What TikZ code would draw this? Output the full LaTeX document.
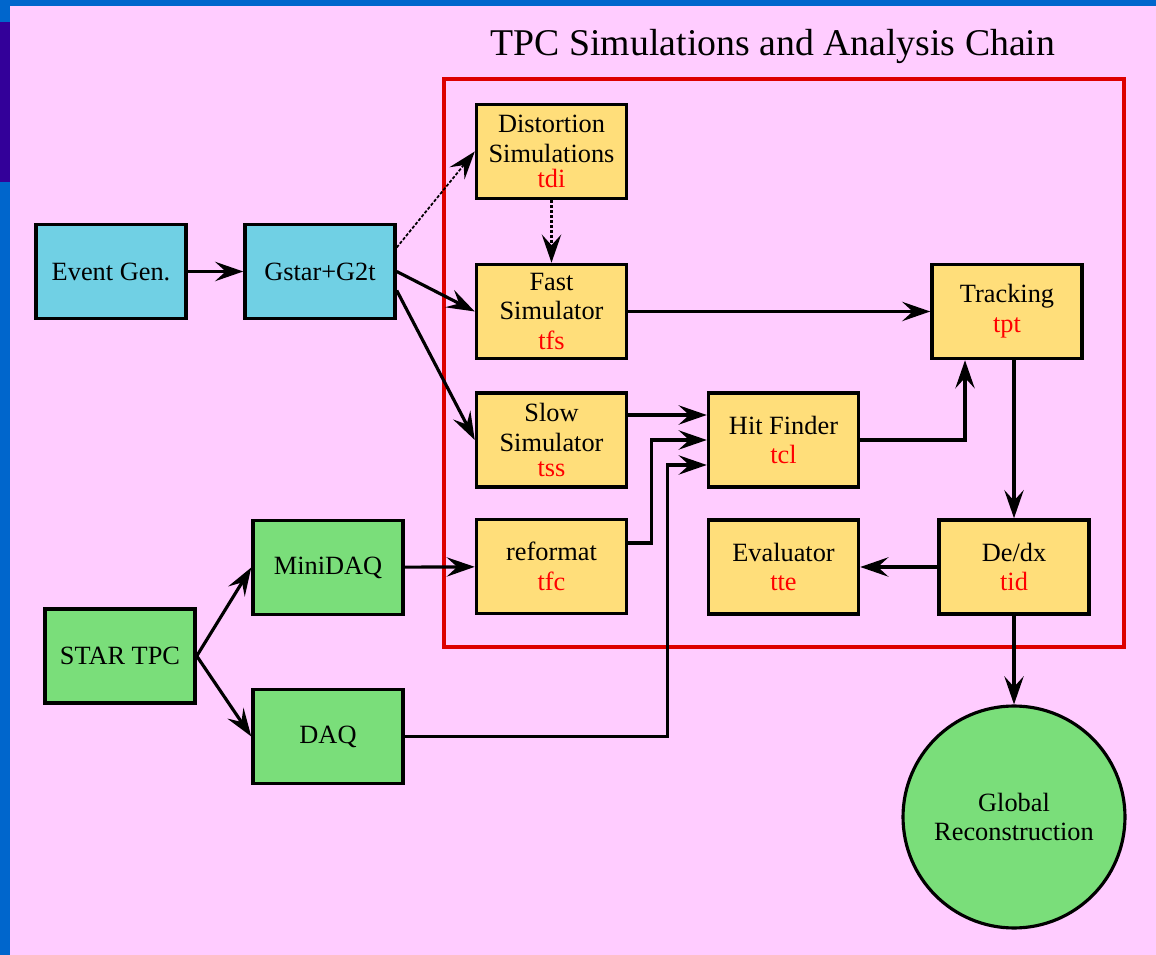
\documentclass[tikz,border=0pt]{standalone}
\usepackage{fontspec}
\setmainfont{Liberation Serif}
\usepackage{tikz}
\usepackage{xcolor}
\usetikzlibrary{arrows.meta, positioning, calc}

\definecolor{pagepink}{RGB}{255,204,255}
\definecolor{slideblue}{RGB}{0,102,204}
\definecolor{slideindigo}{RGB}{51,0,153}
\definecolor{chainred}{RGB}{221,0,0}
\definecolor{gencyan}{RGB}{112,208,228}
\definecolor{stepyellow}{RGB}{255,222,122}
\definecolor{daqgreen}{RGB}{122,222,122}

\newcommand{\modname}[1]{\textcolor{red}{#1}}

\tikzset{
  stagebox/.style={draw, line width=2pt, minimum width=3.0cm, minimum height=1.88cm,
    align=center, inner sep=2pt, font=\fontsize{15}{17}\selectfont},
  genbox/.style={stagebox, fill=gencyan},
  simbox/.style={stagebox, fill=stepyellow},
  daqbox/.style={stagebox, fill=daqgreen},
  flow/.style={line width=1.8pt, -{Stealth[length=16pt,width=11pt,inset=6pt]}},
  dotflow/.style={flow, densely dotted}
}

\begin{document}
\begin{tikzpicture}[x=0.02cm, y=-0.02cm]
    % slide background and frame
    \fill[pagepink] (0,0) rectangle (1156,955);
    \fill[slideblue] (0,0) rectangle (1156,6);
    \fill[slideblue] (0,0) rectangle (10,955);
    \fill[slideindigo] (0,22) rectangle (10,182);
    \useasboundingbox (0,0) rectangle (1156,955);

    % title
    \node[font=\fontsize{21.5}{25}\selectfont] (title) at (773,46) {TPC Simulations and Analysis Chain};

    % TPC chain frame
    \draw[chainred, line width=1.8pt] (444,79) rectangle (1124,647);

    % generators
    \node[genbox] (evgen) at (111,271.5) {Event Gen.};
    \node[genbox] (gstar) at (320,271.5) {Gstar+G2t};

    % simulators
    \node[simbox] (distort) at (551.5,151.5) {Distortion\\Simulations\\[-3pt]\modname{tdi}};
    \node[simbox] (fast) at (551.5,311.5) {Fast\\Simulator\\\modname{tfs}};
    \node[simbox] (slow) at (551.5,440) {Slow\\Simulator\\[-3pt]\modname{tss}};
    \node[simbox] (reformat) at (551.5,566.5) {reformat\\\modname{tfc}};

    % reconstruction
    \node[simbox] (hit) at (783.5,440) {Hit Finder\\\modname{tcl}};
    \node[simbox] (evaluator) at (783.5,567) {Evaluator\\\modname{tte}};
    \node[simbox] (tracking) at (1007,311.5) {Tracking\\\modname{tpt}};
    \node[simbox] (dedx) at (1014,567) {De/dx\\\modname{tid}};

    % detector and readout
    \node[daqbox] (startpc) at (120,656) {STAR TPC};
    \node[daqbox] (minidaq) at (328,567.5) {MiniDAQ};
    \node[daqbox] (daq) at (328,736.5) {DAQ};

    % global reconstruction
    \node[draw, circle, line width=1.8pt, fill=daqgreen, minimum size=4.44cm, align=center,
          font=\fontsize{15}{17}\selectfont] (global) at (1014,817) {Global\\Reconstruction};

    % connections
    \draw[flow] (evgen) -- (gstar);
    \draw[dotflow, line width=1pt] ([yshift=0.48cm]gstar.east) -- (distort.west);
    \draw[flow] (gstar.east) -- (fast.west);
    \draw[flow] ([yshift=-0.38cm]gstar.east) -- (slow.west);
    \draw[dotflow] (distort.south) -- (fast.north);
    \draw[flow] (fast) -- (tracking);
    \draw[flow] ([yshift=0.5cm]slow.east) -- ([yshift=0.5cm]hit.west);
    \draw[flow] ([yshift=0.47cm]reformat.east) -- ++(0.46cm,0) |- (hit.west);
    \draw[flow] (daq.east) -| ([xshift=-0.78cm,yshift=-0.5cm]hit.west) -- ([yshift=-0.5cm]hit.west);
    \draw[flow] (hit.east) -| ([xshift=-0.84cm]tracking.south);
    \draw[flow] (dedx.north |- tracking.south) -- (dedx.north);
    \draw[flow] (dedx) -- (evaluator);
    \draw[flow] (dedx.south) -- (global.north);
    \draw[flow] (minidaq) -- (reformat);
    \draw[flow] (startpc.east) -- (minidaq.west);
    \draw[flow] (startpc.east) -- (daq.west);

\end{tikzpicture}
\end{document}
